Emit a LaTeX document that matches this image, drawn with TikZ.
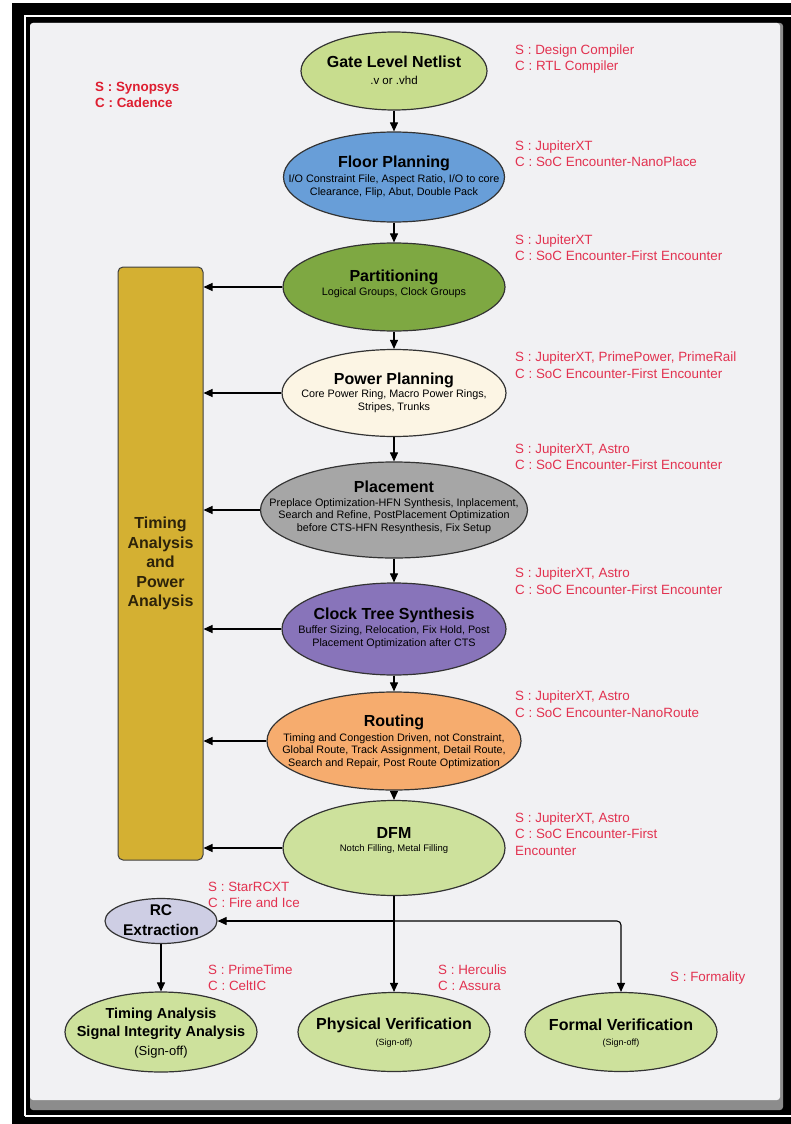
\documentclass[tikz,border=0pt]{standalone}
\usepackage{fontspec}
\setmainfont{Liberation Sans}
\usetikzlibrary{shapes.geometric,arrows.meta,calc}

\definecolor{toolred}{RGB}{226,50,80}
\definecolor{panelgrey}{RGB}{241,241,243}
\definecolor{gatefill}{RGB}{200,221,142}
\definecolor{floorfill}{RGB}{104,158,216}
\definecolor{partfill}{RGB}{126,168,66}
\definecolor{powerfill}{RGB}{252,245,228}
\definecolor{placefill}{RGB}{166,166,166}
\definecolor{ctsfill}{RGB}{136,116,186}
\definecolor{routefill}{RGB}{246,172,110}
\definecolor{dfmfill}{RGB}{205,225,156}
\definecolor{rcfill}{RGB}{206,206,228}
\definecolor{barfill}{RGB}{212,176,50}

\newcommand{\stagetitle}{\fontsize{16}{19}\selectfont\bfseries}
\newcommand{\stagenote}{\fontsize{10.8}{12.5}\selectfont}
\newcommand{\toolfont}{\fontsize{13.4}{16.5}\selectfont}

\begin{document}
\begin{tikzpicture}[x=1pt,y=-1pt,
  stage/.style={ellipse, draw=black!80, line width=1.2pt, inner sep=0pt},
  ttl/.style={font=\stagetitle, inner sep=0pt},
  note/.style={font=\stagenote, align=center, inner sep=0pt},
  tool/.style={font=\toolfont, text=toolred, align=left, anchor=west, inner sep=0pt},
  flow/.style={line width=1.1pt, -{Triangle[length=9pt,width=8pt]}}]
\useasboundingbox (0,0) rectangle (791,1124);
% frame and panel
\fill[white] (0,0) rectangle (791,1124);
\fill[black] (12,3) rectangle (791,1124);
\draw[white, line width=2pt] (24.5,1116) -- (24.5,16.5) -- (791,16.5);
\draw[white, line width=2pt] (24.5,1116) -- (791,1116);
\fill[black!45, rounded corners=3pt] (30,23) rectangle (783,1110);
\fill[panelgrey, rounded corners=3pt] (30,23) rectangle (780,1100);

% main flow
\node[stage, fill=gatefill, minimum width=186pt, minimum height=78pt] (gate) at (394,71) {};
\node[ttl] (gate-t) at (394,62) {Gate Level Netlist};
\node[note, font=\fontsize{11.5}{13}\selectfont] (gate-n) at (394,80) {.v or .vhd};

\node[stage, fill=floorfill, minimum width=221pt, minimum height=90pt] (floor) at (394,177) {};
\node[ttl] (floor-t) at (394,163) {Floor Planning};
\node[note] (floor-n) at (394,186) {I/O Constraint File, Aspect Ratio, I/O to core\\Clearance, Flip, Abut, Double Pack};

\node[stage, fill=partfill, minimum width=222pt, minimum height=88pt] (part) at (394,287) {};
\node[ttl] (part-t) at (394,277) {Partitioning};
\node[note] (part-n) at (394,293) {Logical Groups, Clock Groups};

\node[stage, fill=powerfill, minimum width=224pt, minimum height=87pt] (power) at (394,393) {};
\node[ttl] (power-t) at (394,380) {Power Planning};
\node[note] (power-n) at (394,401) {Core Power Ring, Macro Power Rings,\\Stripes, Trunks};

\node[stage, fill=placefill, minimum width=267pt, minimum height=96pt] (place) at (394,510) {};
\node[ttl] (place-t) at (394,487) {Placement};
\node[note] (place-n) at (394,516) {Preplace Optimization-HFN Synthesis, Inplacement,\\Search and Refine, PostPlacement Optimization\\before CTS-HFN Resynthesis, Fix Setup};

\node[stage, fill=ctsfill, minimum width=224pt, minimum height=92pt] (cts) at (394,629) {};
\node[ttl] (cts-t) at (394,615) {Clock Tree Synthesis};
\node[note] (cts-n) at (394,637) {Buffer Sizing, Relocation, Fix Hold, Post\\Placement Optimization after CTS};

\node[stage, fill=routefill, minimum width=254pt, minimum height=98pt] (route) at (394,741) {};
\node[ttl] (route-t) at (394,722) {Routing};
\node[note] (route-n) at (394,751) {Timing and Congestion Driven, not Constraint,\\Global Route, Track Assignment, Detail Route,\\Search and Repair, Post Route Optimization};

\node[stage, fill=dfmfill, minimum width=222pt, minimum height=95pt] (dfm) at (394,848) {};
\node[ttl] (dfm-t) at (394,833) {DFM};
\node[note, font=\fontsize{9.5}{11}\selectfont] (dfm-n) at (394,849) {Notch Filling, Metal Filling};

% timing/power bar
\node[draw=black!75, fill=barfill, line width=1pt, rounded corners=5pt,
  minimum width=85pt, minimum height=593pt, align=center,
  font=\fontsize{16}{19.5}\selectfont\bfseries, text={rgb,255:red,45;green,35;blue,10}]
  (bar) at (160.5,563.5) {Timing\\Analysis\\and\\Power\\Analysis};

% sign-off stages
\node[stage, fill=rcfill, minimum width=112pt, minimum height=45pt] (rc) at (161,921) {};
\node[align=center, inner sep=0pt, font=\fontsize{15.5}{20}\selectfont\bfseries] (rc-t) at (161,920) {RC\\Extraction};

\node[stage, fill=dfmfill, minimum width=192pt, minimum height=80pt] (sta) at (161,1032) {};
\node[align=center, inner sep=0pt, font=\fontsize{14.5}{18.5}\selectfont\bfseries] (sta-t) at (161,1033)
  {Timing Analysis\\Signal Integrity Analysis\\{\fontsize{13}{18.5}\selectfont\mdseries (Sign-off)}};

\node[stage, fill=dfmfill, minimum width=192pt, minimum height=79pt] (pv) at (394,1032) {};
\node[ttl] (pv-t) at (394,1025) {Physical Verification};
\node[note, font=\fontsize{9}{10}\selectfont] (pv-n) at (394,1043) {(Sign-off)};

\node[stage, fill=dfmfill, minimum width=192pt, minimum height=79pt] (fv) at (621,1032) {};
\node[ttl] (fv-t) at (621,1025) {Formal Verification};
\node[note, font=\fontsize{9}{10}\selectfont] (fv-n) at (621,1043) {(Sign-off)};

% connectors
\draw[flow] (gate) -- (floor);
\draw[flow] (floor) -- (part);
\draw[flow] (part) -- (power);
\draw[flow] (power) -- (place);
\draw[flow] (place) -- (cts);
\draw[flow] (cts) -- (route);
\draw[flow] (route) -- (dfm);
\foreach \s in {part,power,place,cts,route,dfm}
  \draw[flow] (\s.west) -- (\s.west -| bar.east);
\coordinate (split) at (394,921);
\draw[flow] (dfm.south) -- (pv.north);
\draw[flow] (split) -- (rc.east);
\draw[flow, rounded corners=4pt] (split) -| (fv.north);
\draw[flow] (rc.south) -- (sta.north);

% tool labels
\node[tool, font=\toolfont\bfseries, text={rgb,255:red,222;green,30;blue,48}] (vendors) at (95,95) {S : Synopsys\\C : Cadence};
\node[tool] (gate-tool) at (515,59) {S : Design Compiler\\C : RTL Compiler};
\node[tool] (floor-tool) at (515,153.5) {S : JupiterXT\\C : SoC Encounter-NanoPlace};
\node[tool] (part-tool) at (515,247.5) {S : JupiterXT\\C : SoC Encounter-First Encounter};
\node[tool] (power-tool) at (515,365) {S : JupiterXT, PrimePower, PrimeRail\\C : SoC Encounter-First Encounter};
\node[tool] (place-tool) at (515,456.5) {S : JupiterXT, Astro\\C : SoC Encounter-First Encounter};
\node[tool] (cts-tool) at (515,581) {S : JupiterXT, Astro\\C : SoC Encounter-First Encounter};
\node[tool] (route-tool) at (515,704) {S : JupiterXT, Astro\\C : SoC Encounter-NanoRoute};
\node[tool] (dfm-tool) at (515,834) {S : JupiterXT, Astro\\C : SoC Encounter-First\\Encounter};
\node[tool] (rc-tool) at (208,895) {S : StarRCXT\\C : Fire and Ice};
\node[tool] (sta-tool) at (208,977.5) {S : PrimeTime\\C : CeltIC};
\node[tool] (pv-tool) at (438,977.5) {S : Herculis\\C : Assura};
\node[tool] (fv-tool) at (670,978) {S : Formality};
\end{tikzpicture}
\end{document}
